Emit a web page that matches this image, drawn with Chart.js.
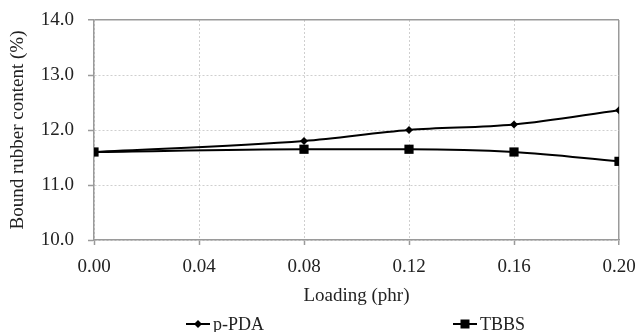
<!DOCTYPE html>
<html>
<head>
<meta charset="utf-8">
<script src="https://cdn.jsdelivr.net/npm/chart.js@4/dist/chart.umd.min.js"></script>
<style>
  body { margin: 0; background: #fff; }
  #wrap { width: 637px; height: 332px; }
</style>
</head>
<body>
<div id="wrap"><canvas id="rubberChart" width="637" height="332"></canvas></div>
<script>
// valores de la figura
const loading = [0, 0.08, 0.12, 0.16, 0.20];
const pPDA = [11.6, 11.8, 12.0, 12.1, 12.36];
const tbbs = [11.6, 11.65, 11.65, 11.6, 11.43];

// marcas de los ejes
const xTicks = [0, 0.04, 0.08, 0.12, 0.16, 0.20];
const yTicks = [10, 11, 12, 13, 14];

const serif = '"Liberation Serif", "Times New Roman", serif';
const axisGray = '#9a9a9a';
const gridGray = '#cfcfcf';

// la ultima linea de la grilla hace de borde del grafico
const isEdge = (ctx, list) => ctx.tick && Math.abs(ctx.tick.value - list[list.length - 1]) < 1e-9;

// leyenda dibujada a mano, con los items separados
const legendItems = [
  { text: 'p-PDA', style: 'diamond', x: 186 },
  { text: 'TBBS', style: 'square', x: 453 }
];

const spreadLegend = {
  id: 'spreadLegend',
  afterDraw(chart) {
    const ctx = chart.ctx;
    const y = 324;
    ctx.save();
    legendItems.forEach((item) => {
      ctx.strokeStyle = '#000';
      ctx.lineWidth = 2;
      ctx.beginPath();
      ctx.moveTo(item.x, y);
      ctx.lineTo(item.x + 24, y);
      ctx.stroke();

      const cx = item.x + 12;
      ctx.fillStyle = '#000';
      ctx.beginPath();
      if (item.style === 'diamond') {
        ctx.moveTo(cx, y - 4);
        ctx.lineTo(cx + 4, y);
        ctx.lineTo(cx, y + 4);
        ctx.lineTo(cx - 4, y);
        ctx.closePath();
      } else {
        ctx.rect(cx - 4.5, y - 4.5, 9, 9);
      }
      ctx.fill();

      ctx.fillStyle = '#222';
      ctx.font = '18px ' + serif;
      ctx.textAlign = 'left';
      ctx.textBaseline = 'middle';
      ctx.fillText(item.text, item.x + 27, y + 1);
    });
    ctx.restore();
  }
};

// sin el relleno automatico que chart.js agrega para las etiquetas
function noLabelPadding(scale) {
  scale.paddingLeft = 0;
  scale.paddingRight = 0;
  scale.paddingTop = 0;
  scale.paddingBottom = 0;
}

const ctx = document.getElementById('rubberChart');
const chart = new Chart(ctx, {
  type: 'line',
  plugins: [spreadLegend],
  data: {
    datasets: [{
      label: 'p-PDA',
      data: loading.map((x, i) => ({ x: x, y: pPDA[i] })),
      borderColor: '#000',
      backgroundColor: '#000',
      borderWidth: 2,
      cubicInterpolationMode: 'monotone',
      pointStyle: 'rectRot',
      pointRadius: 4,
      pointBorderWidth: 0
    }, {
      label: 'TBBS',
      data: loading.map((x, i) => ({ x: x, y: tbbs[i] })),
      borderColor: '#000',
      backgroundColor: '#000',
      borderWidth: 2,
      cubicInterpolationMode: 'monotone',
      pointStyle: 'rect',
      pointRadius: 6.5,
      pointBorderWidth: 0
    }]
  },
  options: {
    responsive: false,
    animation: false,
    layout: { padding: { left: 0, right: 18, top: 20, bottom: 24 } },
    plugins: {
      legend: { display: false },
      tooltip: { enabled: false }
    },
    scales: {
      x: {
        type: 'linear',
        min: 0,
        max: 0.2,
        afterBuildTicks: (scale) => { scale.ticks = xTicks.map((v) => ({ value: v })); },
        afterFit: (scale) => { scale.height = 68; noLabelPadding(scale); },
        ticks: {
          color: '#222',
          padding: 11,
          maxRotation: 0,
          font: { family: serif, size: 19 },
          callback: (v) => Number(v).toFixed(2)
        },
        grid: {
          color: (c) => isEdge(c, xTicks) ? axisGray : gridGray,
          lineWidth: (c) => isEdge(c, xTicks) ? 1.5 : 1,
          tickLength: 5,
          tickColor: axisGray,
          tickWidth: 1.5
        },
        border: {
          color: axisGray,
          width: 1.5,
          dash: (c) => isEdge(c, xTicks) ? [] : [2, 2]
        },
        title: {
          display: true,
          text: 'Loading (phr)',
          color: '#222',
          padding: { top: 0, bottom: 1 },
          font: { family: serif, size: 19 }
        }
      },
      y: {
        min: 10,
        max: 14,
        afterBuildTicks: (scale) => { scale.ticks = yTicks.map((v) => ({ value: v })); },
        afterFit: (scale) => { scale.width = 94; noLabelPadding(scale); },
        ticks: {
          color: '#222',
          padding: 14,
          font: { family: serif, size: 19 },
          callback: (v) => Number(v).toFixed(1)
        },
        grid: {
          color: (c) => isEdge(c, yTicks) ? axisGray : gridGray,
          lineWidth: (c) => isEdge(c, yTicks) ? 1.5 : 1,
          tickLength: 6,
          tickColor: axisGray,
          tickWidth: 1.5
        },
        border: {
          color: axisGray,
          width: 1.5,
          dash: (c) => isEdge(c, yTicks) ? [] : [2, 2]
        },
        title: {
          display: true,
          text: 'Bound rubber content (%)',
          color: '#222',
          padding: { top: 7, bottom: 0 },
          font: { family: serif, size: 19 }
        }
      }
    }
  }
});
</script>
</body>
</html>
